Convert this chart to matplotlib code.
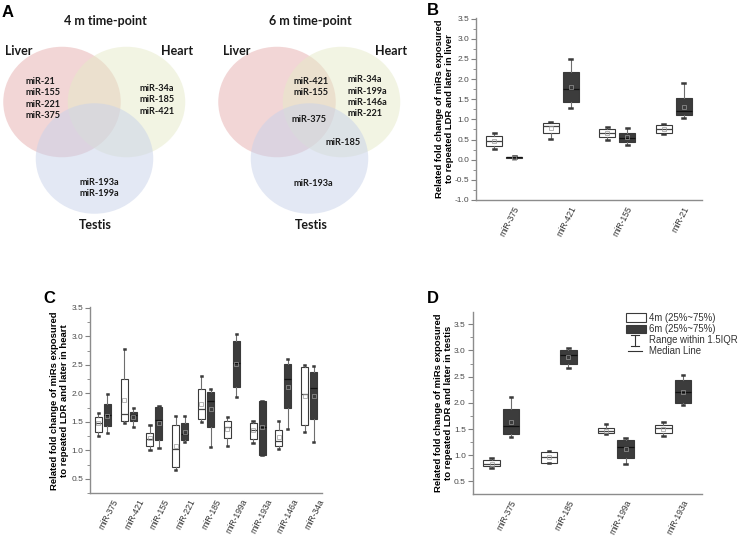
import matplotlib
matplotlib.use('Agg')
import matplotlib.pyplot as plt
from matplotlib.patches import Ellipse, Patch
from matplotlib.lines import Line2D
from matplotlib.legend_handler import HandlerBase
from matplotlib.ticker import MultipleLocator, FormatStrFormatter
from matplotlib.transforms import ScaledTranslation
import numpy as np

plt.rcParams['font.family'] = ['Liberation Sans', 'DejaVu Sans']

# ---------------- data ----------------
venn_titles = ['4 m time-point', '6 m time-point']
venn_sets = ['Liver', 'Heart', 'Testis']
venn4_liver_only = ['miR-21', 'miR-155', 'miR-221', 'miR-375']
venn4_heart_only = ['miR-34a', 'miR-185', 'miR-421']
venn4_testis_only = ['miR-193a', 'miR-199a']
venn6_liver_heart = ['miR-421', 'miR-155']
venn6_all_three = ['miR-375']
venn6_heart_testis = ['miR-185']
venn6_heart_only = ['miR-34a', 'miR-199a', 'miR-146a', 'miR-221']
venn6_testis_only = ['miR-193a']

# box stats: (whisker low, Q1, median, Q3, whisker high, mean)
b_cats = ['miR-375', 'miR-421', 'miR-155', 'miR-21']
b_4m = [(0.26, 0.35, 0.47, 0.58, 0.67, 0.46),
        (0.52, 0.65, 0.83, 0.90, 0.93, 0.79),
        (0.48, 0.57, 0.67, 0.75, 0.81, 0.65),
        (0.64, 0.67, 0.77, 0.86, 0.88, 0.77)]
b_6m = [(0.03, 0.04, 0.055, 0.065, 0.09, 0.05),
        (1.28, 1.44, 1.74, 2.18, 2.50, 1.81),
        (0.36, 0.43, 0.54, 0.67, 0.79, 0.55),
        (1.03, 1.10, 1.20, 1.53, 1.89, 1.31)]

c_cats = ['miR-375', 'miR-421', 'miR-155', 'miR-221', 'miR-185',
          'miR-199a', 'miR-193a', 'miR-146a', 'miR-34a']
c_4m = [(1.25, 1.32, 1.47, 1.58, 1.65, 1.47),
        (1.47, 1.51, 1.64, 2.25, 2.78, 1.89),
        (1.01, 1.08, 1.19, 1.31, 1.44, 1.22),
        (0.65, 0.71, 1.03, 1.45, 1.61, 1.08),
        (1.50, 1.55, 1.73, 2.08, 2.30, 1.82),
        (1.08, 1.22, 1.40, 1.52, 1.59, 1.38),
        (1.13, 1.19, 1.35, 1.47, 1.51, 1.35),
        (1.02, 1.07, 1.16, 1.35, 1.51, 1.23),
        (1.32, 1.44, 1.99, 2.46, 2.49, 1.96)]
c_6m = [(1.30, 1.43, 1.62, 1.82, 1.99, 1.60),
        (1.41, 1.51, 1.62, 1.68, 1.74, 1.59),
        (1.04, 1.18, 1.54, 1.76, 1.77, 1.48),
        (1.14, 1.18, 1.28, 1.47, 1.60, 1.32),
        (1.06, 1.41, 1.87, 2.03, 2.08, 1.72),
        (1.93, 2.11, 2.54, 2.91, 3.04, 2.52),
        (0.91, 0.92, 1.40, 1.86, 1.86, 1.40),
        (1.38, 1.74, 2.25, 2.51, 2.61, 2.11),
        (1.15, 1.55, 2.10, 2.37, 2.48, 1.96)]

d_cats = ['miR-375', 'miR-185', 'miR-199a', 'miR-193a']
d_4m = [(0.75, 0.79, 0.84, 0.90, 0.94, 0.84),
        (0.86, 0.86, 0.96, 1.06, 1.08, 0.96),
        (1.40, 1.42, 1.46, 1.52, 1.59, 1.47),
        (1.36, 1.43, 1.52, 1.57, 1.63, 1.51)]
d_6m = [(1.35, 1.40, 1.55, 1.89, 2.12, 1.64),
        (2.66, 2.74, 2.91, 3.00, 3.04, 2.88),
        (0.84, 0.94, 1.15, 1.29, 1.33, 1.12),
        (1.96, 1.99, 2.20, 2.44, 2.54, 2.20)]

legend_labels = ['4m (25%~75%)', '6m (25%~75%)', 'Range within 1.5IQR', 'Median Line']
ylabel_tpl = 'Related fold change of miRs exposured\nto repeated LDR and later in {}'

# ---------------- figure ----------------
W, H = 741, 538
fig = plt.figure(figsize=(W / 100, H / 100), dpi=100)

ov = fig.add_axes([0, 0, 1, 1])
ov.set_xlim(0, W)
ov.set_ylim(H, 0)
ov.axis('off')

DARK = '#3c3c3c'
venn_font = dict(family=['Lato', 'DejaVu Sans'], fontweight='bold', color='#1a1a1a')

# Venn circles (layout in pixel space)
fills = ['#e6aeae', '#e6eac8', '#c8d2ea']
for cx in (0, 215):
    centres = [(62 + cx, 102), (126.5 + cx, 102), (94.5 + cx, 158.5)]
    for (x, y), fc in zip(centres, fills):
        ov.add_patch(Ellipse((x, y), 117.5, 110.5, facecolor=fc, alpha=0.5,
                             edgecolor='none'))

ov.text(105, 21, venn_titles[0], ha='center', va='center', fontsize=9, **venn_font)
ov.text(310, 21, venn_titles[1], ha='center', va='center', fontsize=9, **venn_font)
for cx in (0, 215):
    ov.text(5 + cx + (3 if cx else 0), 51, venn_sets[0], ha='left', va='center', fontsize=9, **venn_font)
    ov.text(193 + cx + (0 if not cx else -1), 51, venn_sets[1], ha='right', va='center', fontsize=9, **venn_font)
    ov.text(95 + cx + (1 if cx else 0), 225, venn_sets[2], ha='center', va='center', fontsize=9, **venn_font)


def stack(lst, x, y0, dy=11.3):
    for i, t in enumerate(lst):
        ov.text(x, y0 + i * dy, t, ha='left', va='center', fontsize=6.6, **venn_font)


stack(venn4_liver_only, 25, 81.5)
stack(venn4_heart_only, 139, 88.5)
stack(venn4_testis_only, 79, 182.5)
stack(venn6_liver_heart, 294, 81.5)
stack(venn6_all_three, 291, 119.5)
stack(venn6_heart_testis, 325, 142.5)
stack(venn6_heart_only, 348, 80)
stack(venn6_testis_only, 294, 184)

# panel letters
for letter, x, y in [('A', 1.5, 17), ('B', 426.5, 15), ('C', 43, 303.3), ('D', 426.5, 303.3)]:
    ov.text(x, y, letter, ha='left', va='baseline', fontsize=12, fontweight='bold', color='black')

# y labels
for txt, x, y in [('liver', 444.2, 109), ('heart', 59.5, 401), ('testis', 443.5, 403)]:
    ov.text(x, y, ylabel_tpl.format(txt), rotation=90, ha='center', va='center',
            multialignment='center', fontsize=6.8, fontweight='bold', linespacing=1.2,
            color='black')


def px_rect(x0, y_top, x1, y_bot):
    return [x0 / W, 1 - y_bot / H, (x1 - x0) / W, (y_bot - y_top) / H]


def draw_panel(rect, cats, s4, s6, ylim, yticks, off, width):
    ax = fig.add_axes(rect)
    pos = np.arange(1, len(cats) + 1)
    for series, sign, face, medc in [(s4, -1, 'white', '#444444'), (s6, 1, DARK, '#111111')]:
        stats = [dict(whislo=r[0], q1=r[1], med=r[2], q3=r[3], whishi=r[4],
                      mean=r[5], fliers=[]) for r in series]
        ax.bxp(stats, positions=pos + sign * off, widths=width, patch_artist=True,
               showmeans=True, manage_ticks=False, capwidths=0.045,
               boxprops=dict(facecolor=face, edgecolor='#3a3a3a', linewidth=0.8),
               medianprops=dict(color=medc, linewidth=0.9),
               whiskerprops=dict(color='#6e6e6e', linewidth=0.8),
               capprops=dict(color='#3a3a3a', linewidth=1.8),
               meanprops=dict(marker='s', markersize=2.6, markerfacecolor='none',
                              markeredgecolor='#9a9a9a', markeredgewidth=0.5))
    ax.set_xlim(0.5, len(cats) + 0.5)
    ax.set_ylim(*ylim)
    ax.set_yticks(yticks)
    ax.yaxis.set_major_formatter(FormatStrFormatter('%.1f'))
    ax.yaxis.set_minor_locator(MultipleLocator(0.25))
    for s in ['top', 'right']:
        ax.spines[s].set_visible(False)
    for s in ['left', 'bottom']:
        ax.spines[s].set_color('#8c8c8c')
        ax.spines[s].set_linewidth(1.0)
    ax.tick_params(axis='y', which='major', length=3.5, width=0.8, color='#808080',
                   labelsize=6, labelcolor='#4a4a4a', pad=1.5)
    ax.tick_params(axis='y', which='minor', length=2, width=0.6, color='#808080')
    ax.tick_params(axis='x', length=0, pad=3.5)
    ax.set_xticks(pos)
    ax.set_xticklabels(cats, rotation=63, ha='right', va='top', rotation_mode='anchor',
                       fontsize=6.2, color='#333333')
    shift = ScaledTranslation(9 / 100, 0, fig.dpi_scale_trans)
    for lab in ax.get_xticklabels():
        lab.set_transform(lab.get_transform() + shift)
    ax.set_facecolor('none')
    return ax


axB = draw_panel(px_rect(476, 17.7, 702, 200), b_cats, b_4m, b_6m, (-1.0, 3.52),
                 np.arange(-1.0, 3.51, 0.5), 0.177, 0.29)
axC = draw_panel(px_rect(90, 306.7, 322, 493), c_cats, c_4m, c_6m, (0.25, 3.52),
                 np.arange(0.5, 3.51, 0.5), 0.175, 0.27)
axD = draw_panel(px_rect(472.7, 311.7, 701.7, 494), d_cats, d_4m, d_6m, (0.26, 3.74),
                 np.arange(0.5, 3.51, 0.5), 0.17, 0.29)


# legend handlers
class HandlerRange(HandlerBase):
    def create_artists(self, legend, orig_handle, xdescent, ydescent, width, height,
                       fontsize, trans):
        cx = width / 2 - xdescent - 1
        y0, y1 = -0.15 * height - ydescent, 1.05 * height - ydescent
        cw = 3.0
        arts = [Line2D([cx, cx], [y0, y1], color='#333333', lw=0.8),
                Line2D([cx - cw, cx + cw], [y0, y0], color='#333333', lw=0.8),
                Line2D([cx - cw, cx + cw], [y1, y1], color='#333333', lw=0.8)]
        for a in arts:
            a.set_transform(trans)
        return arts


class HandlerShortLine(HandlerBase):
    def create_artists(self, legend, orig_handle, xdescent, ydescent, width, height,
                       fontsize, trans):
        cx = width / 2 - xdescent - 1
        y = height / 2 - ydescent
        ln = Line2D([cx - 5, cx + 5], [y, y], color='#333333', lw=0.8)
        ln.set_transform(trans)
        return [ln]


class RangeKey:
    pass


class MedKey:
    pass


handles = [Patch(facecolor='white', edgecolor='#3a3a3a', linewidth=0.8),
           Patch(facecolor=DARK, edgecolor='#3a3a3a', linewidth=0.8),
           RangeKey(), MedKey()]
axD.legend(handles, legend_labels, loc='upper left',
           bbox_to_anchor=(626 / W, 1 - 313 / H), bbox_transform=fig.transFigure,
           frameon=False, fontsize=6.9, handlelength=2.1, handleheight=1.0,
           handletextpad=0.25, labelspacing=0.12, borderpad=0, borderaxespad=0,
           handler_map={RangeKey: HandlerRange(), MedKey: HandlerShortLine()},
           labelcolor='#333333')

fig.savefig('out.png', dpi=100)
